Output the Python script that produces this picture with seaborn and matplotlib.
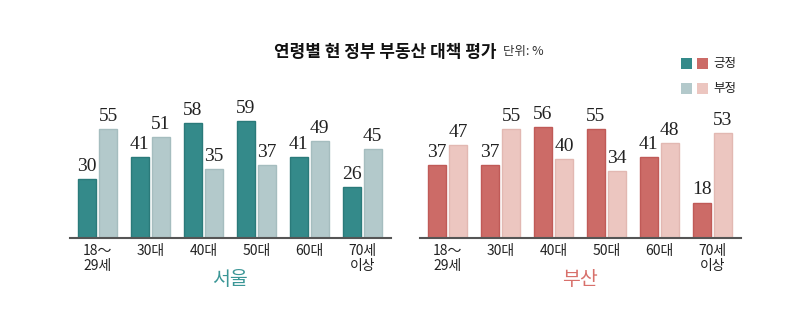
import matplotlib
matplotlib.use("Agg")
import matplotlib.pyplot as plt
import seaborn as sns
import pandas as pd
from matplotlib.patches import Rectangle

sns.set_theme(style="white")
plt.rcParams['font.family'] = ['Noto Sans CJK KR', 'DejaVu Sans']

ages = ["18～\n29세", "30대", "40대", "50대", "60대", "70세\n이상"]
seoul_pos = [30, 41, 58, 59, 41, 26]
seoul_neg = [55, 51, 35, 37, 49, 45]
busan_pos = [37, 37, 56, 55, 41, 18]
busan_neg = [47, 55, 40, 34, 48, 53]
series = ["긍정", "부정"]
title = "연령별 현 정부 부동산 대책 평가"
unit = "단위: %"

seoul_colors = ["#348a8a", "#b3c9cb"]
seoul_edges = ["#2a7a7a", "#a5bdbf"]
busan_colors = ["#cc6b67", "#ecc6c0"]
busan_edges = ["#c05a57", "#e2b8b2"]

def long_df(pos, neg):
    return pd.DataFrame({
        "age": ages * 2,
        "kind": [series[0]] * len(ages) + [series[1]] * len(ages),
        "value": pos + neg,
    })

fig = plt.figure(figsize=(8, 3.28), dpi=100)

def panel(left, pos, neg, colors, edges, name, name_color):
    ax = fig.add_axes([left, 0.274, 0.401, 0.392])
    df = long_df(pos, neg)
    sns.barplot(data=df, x="age", y="value", hue="kind", hue_order=series,
                palette=colors, saturation=1, width=0.8, gap=0.15, ax=ax,
                legend=False, linewidth=1, errorbar=None)
    for i, cont in enumerate(ax.containers):
        for bar in cont:
            bar.set_edgecolor(edges[i])
        ax.bar_label(cont, padding=3, fontsize=14, family="Liberation Serif",
                     color="#222222")
    ax.set_xlim(-0.52, 5.54)
    ax.set_ylim(0, 65)
    for s in ["top", "left", "right"]:
        ax.spines[s].set_visible(False)
    ax.spines["bottom"].set_color("#555555")
    ax.spines["bottom"].set_linewidth(1.5)
    ax.set_yticks([])
    ax.set_xlabel("")
    ax.set_ylabel("")
    ax.tick_params(axis="x", length=0, pad=4, labelsize=10, labelcolor="#222222")
    for t in ax.get_xticklabels():
        t.set_linespacing(1.1)
    ax.text(0.5, -0.32, name, transform=ax.transAxes, ha="center", va="center",
            fontsize=14, color=name_color, fontweight="light")
    return ax

panel(0.0875, seoul_pos, seoul_neg, seoul_colors, seoul_edges, "서울", "#3a9696")
panel(0.525, busan_pos, busan_neg, busan_colors, busan_edges, "부산", "#d8706b")

fig.text(0.4815, 0.842, title, ha="center", va="center", fontsize=12.2,
         fontweight="bold", color="#111111")
fig.text(0.629, 0.842, unit, ha="left", va="center", fontsize=9, color="#333333")

# legend
W, H = 800, 328
sq = 11
for row, (cs, lab) in enumerate([( [seoul_colors[0], busan_colors[0]], series[0]),
                                  ([seoul_colors[1], busan_colors[1]], series[1])]):
    y = 58 + row * 25
    for j, c in enumerate(cs):
        x = 681 + j * 16
        fig.patches.append(Rectangle((x / W, 1 - (y + sq) / H), sq / W, sq / H,
                                     transform=fig.transFigure, facecolor=c,
                                     edgecolor="none"))
    fig.text(713 / W, 1 - (y + sq / 2) / H, lab, ha="left", va="center",
             fontsize=9, color="#222222")

fig.savefig("out.png", dpi=100)
